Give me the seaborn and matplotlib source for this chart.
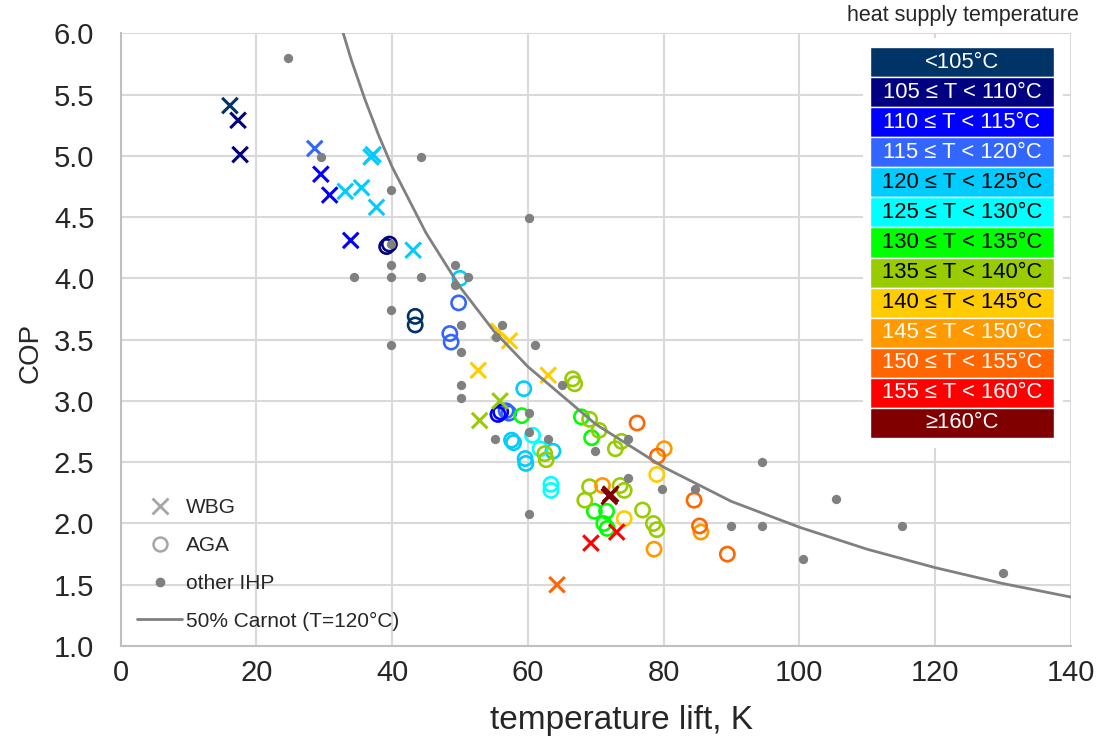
import matplotlib
matplotlib.use('Agg')
import matplotlib.pyplot as plt
from matplotlib.lines import Line2D
import pandas as pd
import seaborn as sns

# ---- temperature classes (heat supply temperature) ----
classes = ['<105°C', '105 ≤ T < 110°C', '110 ≤ T < 115°C', '115 ≤ T < 120°C',
           '120 ≤ T < 125°C', '125 ≤ T < 130°C', '130 ≤ T < 135°C', '135 ≤ T < 140°C',
           '140 ≤ T < 145°C', '145 ≤ T < 150°C', '150 ≤ T < 155°C', '155 ≤ T < 160°C',
           '≥160°C']
class_colors = ['#003366', '#000080', '#0000FF', '#3366FF', '#00CCFF', '#00FFFF',
                '#00FF00', '#99CC00', '#FFCC00', '#FF9900', '#FF6600', '#FF0000', '#800000']
class_text = ['white'] * 4 + ['black'] * 5 + ['white'] * 4

# ---- WBG (crosses) ----
wbg_lift = [16.1, 17.3, 17.6, 29.5, 30.8, 33.9, 28.6, 33.1, 35.5, 36.9, 37.2, 37.7,
            43.1, 55.9, 52.9, 55.7, 57.3, 52.7, 63.0, 64.3, 69.3, 73.1, 72.0, 72.2]
wbg_cop = [5.41, 5.29, 5.01, 4.85, 4.68, 4.31, 5.06, 4.71, 4.74, 4.99, 5.01, 4.58,
           4.23, 3.00, 2.84, 3.57, 3.49, 3.25, 3.21, 1.50, 1.84, 1.93, 2.22, 2.24]
wbg_cls = [0, 1, 1, 2, 2, 2, 3, 4, 4, 4, 4, 4, 4, 7, 7, 8, 8, 8, 8, 10, 11, 11, 12, 12]

# ---- AGA (open circles) ----
aga_lift = [39.2, 39.6,
            43.4, 43.4,
            49.8, 48.5, 48.7, 56.8, 57.2,
            55.6, 56.0,
            50.0, 59.4, 57.6, 57.9, 59.6, 59.7, 63.7,
            60.7, 61.8, 63.4, 63.4,
            59.1, 67.9, 69.4, 69.8, 71.6, 71.2, 71.7,
            62.5, 62.7, 66.6, 66.9, 69.1, 70.5, 72.9, 73.8, 69.1, 73.6, 74.2, 68.4, 76.9, 78.5, 79.0,
            79.0, 74.2,
            80.1, 71.0, 78.6, 85.5,
            76.1, 79.1, 84.5, 85.3, 89.4]
aga_cop = [4.26, 4.28,
           3.69, 3.62,
           3.80, 3.55, 3.48, 2.92, 2.90,
           2.89, 2.91,
           4.00, 3.10, 2.68, 2.66, 2.53, 2.49, 2.59,
           2.72, 2.61, 2.32, 2.27,
           2.88, 2.87, 2.70, 2.10, 2.10, 2.00, 1.96,
           2.57, 2.52, 3.18, 3.14, 2.85, 2.76, 2.61, 2.67, 2.30, 2.31, 2.27, 2.19, 2.11, 2.00, 1.95,
           2.40, 2.04,
           2.61, 2.31, 1.79, 1.93,
           2.82, 2.55, 2.19, 1.98, 1.75]
aga_cls = [1, 1,
           0, 0,
           3, 3, 3, 3, 3,
           2, 2,
           4, 4, 4, 4, 4, 4, 4,
           5, 5, 5, 5,
           6, 6, 6, 6, 6, 6, 6,
           7, 7, 7, 7, 7, 7, 7, 7, 7, 7, 7, 7, 7, 7, 7,
           8, 8,
           9, 9, 9, 9,
           10, 10, 10, 10, 10]

# ---- other IHP (grey dots) ----
ihp_lift = [24.6, 29.5, 44.3, 39.8, 39.8, 39.8, 34.4, 39.8, 44.3, 49.2, 49.2, 51.2,
            39.8, 39.8, 50.1, 50.1, 56.2, 55.3, 61.1, 50.1, 50.1, 60.2, 65.0, 55.2,
            60.1, 60.1, 63.0, 69.9, 74.8, 74.8, 79.7, 84.6, 94.5, 90.0, 94.5, 100.5,
            105.4, 115.2, 130.0, 60.1]
ihp_cop = [5.80, 4.99, 4.99, 4.72, 4.28, 4.11, 4.01, 4.01, 4.01, 4.11, 3.95, 4.01,
           3.74, 3.46, 3.62, 3.40, 3.62, 3.52, 3.46, 3.13, 3.02, 4.49, 3.13, 2.69,
           2.90, 2.75, 2.69, 2.59, 2.69, 2.37, 2.28, 2.28, 2.50, 1.98, 1.98, 1.71,
           2.20, 1.98, 1.60, 2.08]

# ---- 50% Carnot (T=120°C) ----
carnot_lift = [32.8, 34, 36, 38, 40, 45, 50, 55, 60, 70, 80, 90, 100, 110, 120, 130, 140]
carnot_cop = [6.00, 5.78, 5.46, 5.17, 4.91, 4.37, 3.93, 3.57, 3.28, 2.81, 2.46, 2.18,
              1.97, 1.79, 1.64, 1.51, 1.40]

sns.set_style('white')
plt.rcParams['font.family'] = ['Liberation Sans', 'DejaVu Sans']

pal = dict(zip(classes, class_colors))
df_wbg = pd.DataFrame({'lift': wbg_lift, 'cop': wbg_cop, 'cls': [classes[i] for i in wbg_cls]})
df_aga = pd.DataFrame({'lift': aga_lift, 'cop': aga_cop, 'cls': [classes[i] for i in aga_cls]})
df_ihp = pd.DataFrame({'lift': ihp_lift, 'cop': ihp_cop})
df_carnot = pd.DataFrame({'lift': carnot_lift, 'cop': carnot_cop})

fig, ax = plt.subplots(figsize=(11.01, 7.43), dpi=100)
fig.subplots_adjust(left=0.1096, right=0.9725, bottom=0.1305, top=0.9552)

# open circles
sns.scatterplot(data=df_aga, x='lift', y='cop', hue='cls', palette=pal, marker='o',
                s=105, legend=False, ax=ax, zorder=3)
coll = ax.collections[-1]
fc = coll.get_facecolors()
coll.set_facecolors('none')
coll.set_edgecolors(fc)
coll.set_linewidths(1.9)

# crosses
sns.scatterplot(data=df_wbg, x='lift', y='cop', hue='cls', palette=pal, marker='x',
                s=125, linewidth=2.2, legend=False, ax=ax, zorder=4)

# grey dots
sns.scatterplot(data=df_ihp, x='lift', y='cop', color='#808080', marker='o', s=45,
                linewidth=0, legend=False, ax=ax, zorder=5)

# carnot line
sns.lineplot(data=df_carnot, x='lift', y='cop', color='#808080', linewidth=2,
             ax=ax, zorder=6, sort=False)

ax.set_xlim(0, 140)
ax.set_ylim(1.0, 6.0)
ax.set_xticks(range(0, 141, 20))
ax.set_yticks([1.0, 1.5, 2.0, 2.5, 3.0, 3.5, 4.0, 4.5, 5.0, 5.5, 6.0])
ax.set_yticklabels(['%.1f' % v for v in ax.get_yticks()])
ax.grid(True, color='#d9d9d9', linewidth=1.5)
ax.set_axisbelow(True)
for s in ['top', 'right']:
    ax.spines[s].set_visible(False)
for s in ['left', 'bottom']:
    ax.spines[s].set_color('#bfbfbf')
    ax.spines[s].set_linewidth(1.5)
ax.tick_params(axis='both', labelsize=21, colors='#bfbfbf', labelcolor='#262626',
               length=4, width=1.2)
ax.tick_params(axis='y', pad=15)
ax.tick_params(axis='x', pad=5)
ax.set_xlabel('temperature lift, K', fontsize=24, color='#262626')
ax.set_ylabel('COP', fontsize=20, color='#262626')
ax.xaxis.set_label_coords(0.527, -0.121)
ax.yaxis.set_label_coords(-0.095, 0.478)
ax.xaxis.label.set_va('center')
ax.yaxis.label.set_va('center')

# marker legend
handles = [
    Line2D([], [], linestyle='none', marker='x', color='#a6a6a6', markersize=11, markeredgewidth=2),
    Line2D([], [], linestyle='none', marker='o', markerfacecolor='none', markeredgecolor='#a6a6a6',
           markersize=10, markeredgewidth=1.8),
    Line2D([], [], linestyle='none', marker='o', color='#808080', markersize=6),
    Line2D([], [], color='#808080', linewidth=2),
]
labels = ['WBG', 'AGA', 'other IHP', '50% Carnot (T=120°C)']
ax.legend(handles, labels, loc='lower left', bbox_to_anchor=(0.0065, 0.008), frameon=False,
          fontsize=15, handlelength=2.15, handletextpad=0.2, labelspacing=0.9, borderpad=0)

# colour legend box
lax = fig.add_axes([863 / 1101, 1 - 448 / 743, 200 / 1101, 410 / 743])
lax.set_xlim(0, 200)
lax.set_ylim(410, 0)
lax.set_facecolor('white')
lax.axis('off')
lax.add_patch(plt.Rectangle((0, 0), 200, 410, color='white', zorder=0))
row_h = 391 / len(classes)
lax.barh([9 + row_h * (i + 0.5) for i in range(len(classes))], [184] * len(classes), left=7,
         height=row_h, color=class_colors, zorder=1)
for i, (lab, tc) in enumerate(zip(classes, class_text)):
    lax.text(99, 9 + row_h * (i + 0.5), lab, ha='center', va='center', fontsize=15.8,
             color=tc, zorder=2)

fig.text(963 / 1101, 1 - 15 / 743, 'heat supply temperature', ha='center', va='center',
         fontsize=15.5, color='#262626')

fig.savefig('out.png', dpi=100)
